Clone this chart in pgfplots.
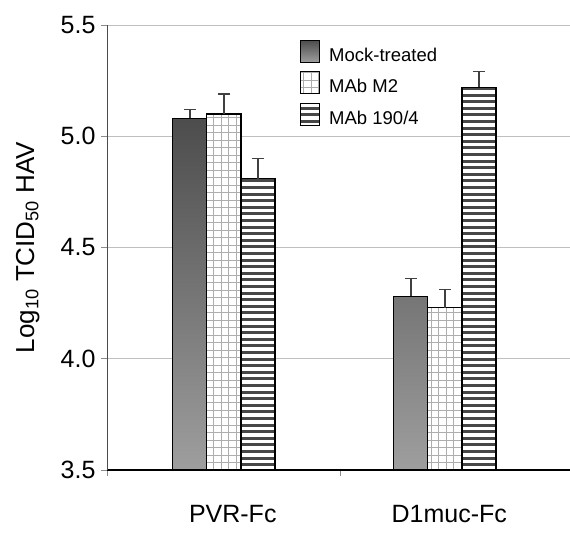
\documentclass[border=0pt]{standalone}
\usepackage{pgfplots}
\pgfplotsset{compat=1.18}
\usepackage{pgfplotstable}
\usepackage{fontspec}
\setmainfont{Liberation Sans}
\usetikzlibrary{patterns}

\pgfdeclarepatternformonly{hstripes}{\pgfqpoint{-1pt}{-1pt}}{\pgfqpoint{7.6pt}{7.6pt}}{\pgfqpoint{6.6pt}{6.6pt}}{%
  \pgfsetlinewidth{3pt}%
  \pgfpathmoveto{\pgfqpoint{-1pt}{3.3pt}}\pgfpathlineto{\pgfqpoint{7.6pt}{3.3pt}}%
  \pgfusepath{stroke}}
\pgfdeclarepatternformonly{sqgrid}{\pgfqpoint{-1pt}{-1pt}}{\pgfqpoint{8.5pt}{8.5pt}}{\pgfqpoint{7.5pt}{7.5pt}}{%
  \pgfsetlinewidth{0.9pt}%
  \pgfpathmoveto{\pgfqpoint{3.75pt}{-1pt}}\pgfpathlineto{\pgfqpoint{3.75pt}{8.5pt}}%
  \pgfpathmoveto{\pgfqpoint{-1pt}{3.75pt}}\pgfpathlineto{\pgfqpoint{8.5pt}{3.75pt}}%
  \pgfusepath{stroke}}

% values: log10 TCID50 HAV, error = upper error bar
\pgfplotstableread{
g mock mockerr mtwo mtwoerr mab maberr
0 5.08 0.04 5.10 0.09 4.81 0.09
1 4.28 0.08 4.23 0.08 5.22 0.07
}\hav

\begin{document}
\begin{tikzpicture}
\begin{axis}[
  scale only axis, width=463pt, height=445pt,
  xmin=-0.529, xmax=1.566, ymin=0, ymax=2,
  axis x line*=bottom, axis y line*=left,
  x axis line style={line width=1.5pt, black},
  y axis line style={line width=0.9pt, black!70},
  ybar, bar width=0.154,
  ytick={0,0.5,1,1.5,2}, yticklabels={3.5,4.0,4.5,5.0,5.5},
  ymajorgrids, grid style={black!25, line width=0.8pt},
  xtick={-0.529,0.525}, xticklabels={},
  extra x ticks={0.04,1.02}, extra x tick labels={PVR-Fc,D1muc-Fc},
  extra x tick style={major tick length=0pt, tick label style={yshift=-32pt}},
  tick align=outside, major tick length=6pt,
  tick style={black!45, line width=0.8pt},
  ticklabel style={font=\fontsize{25}{28}\selectfont},
  yticklabel style={xshift=-2pt},
  ylabel={Log\textsubscript{10} TCID\textsubscript{50} HAV},
  ylabel style={at={(axis description cs:-0.171,0.5)}, anchor=center, font=\fontsize{26}{30}\selectfont},
  legend style={at={(axis description cs:0.41,0.972)}, anchor=north west, draw=none, fill=none,
    font=\fontsize{18.5}{21}\selectfont, row sep=6.5pt,
    /tikz/every odd column/.append style={column sep=7pt}},
  legend cell align=left,
  legend image code/.code={%
    \fill[white] (0pt,-7pt) rectangle (19pt,15pt);
    \draw[#1, line width=1.2pt] (0pt,-7pt) rectangle (19pt,15pt);},
]
% white backgrounds for the patterned bars
\addplot[draw=none, fill=white, forget plot, bar shift=0]
  table[x=g, y expr=\thisrow{mtwo}-3.5]{\hav};
\addplot[draw=none, fill=white, forget plot, bar shift=0.154]
  table[x=g, y expr=\thisrow{mab}-3.5]{\hav};

\addplot[draw=black, line width=1.2pt, top color=black!70, bottom color=black!38, bar shift=-0.154]
  table[x=g, y expr=\thisrow{mock}-3.5]{\hav};
\addlegendentry{Mock-treated}
\addplot[draw=black, line width=1.2pt, pattern=sqgrid, pattern color=black!32, bar shift=0]
  table[x=g, y expr=\thisrow{mtwo}-3.5]{\hav};
\addlegendentry{MAb M2}
\addplot[draw=black, line width=1.2pt, pattern=hstripes, pattern color=black!72, bar shift=0.154]
  table[x=g, y expr=\thisrow{mab}-3.5]{\hav};
\addlegendentry{MAb 190/4}
% error bars
\pgfplotsset{myerr/.style={draw=none, fill=none, forget plot,
  error bars/.cd, y dir=plus, y explicit,
  error bar style={draw=black!75, line width=1.3pt},
  error mark options={rotate=90, draw=black!75, line width=1.3pt, mark size=6pt}}}
\addplot[bar shift=-0.154, myerr]
  table[x=g, y expr=\thisrow{mock}-3.5, y error=mockerr]{\hav};
\addplot[bar shift=0, myerr]
  table[x=g, y expr=\thisrow{mtwo}-3.5, y error=mtwoerr]{\hav};
\addplot[bar shift=0.154, myerr]
  table[x=g, y expr=\thisrow{mab}-3.5, y error=maberr]{\hav};
\end{axis}
\pgfresetboundingbox
\useasboundingbox (-107pt,-64pt) rectangle (463pt,470pt);
\end{tikzpicture}
\end{document}
